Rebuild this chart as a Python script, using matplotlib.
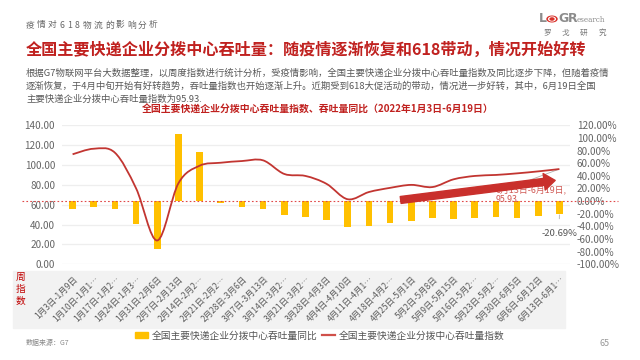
import numpy as np
import matplotlib
matplotlib.use("Agg")
from matplotlib import pyplot as plt
from matplotlib.path import Path
from matplotlib.patches import PathPatch, Rectangle, Circle, Patch
from matplotlib.lines import Line2D
import matplotlib.transforms as mtransforms

plt.rcParams['font.family'] = ['Noto Sans CJK SC', 'DejaVu Sans']

# data
weeks = ["1月3日-1月9日", "1月10日-1月1…", "1月17日-1月2…", "1月24日-1月3…", "1月31日-2月6日",
         "2月7日-2月13日", "2月14日-2月2…", "2月21日-2月2…", "2月28日-3月6日", "3月7日-3月13日",
         "3月14日-3月2…", "3月21日-3月2…", "3月28日-4月3日", "4月4日-4月10日", "4月11日-4月1…",
         "4月18日-4月2…", "4月25日-5月1日", "5月2日-5月8日", "5月9日-5月15日", "5月16日-5月2…",
         "5月23日-5月2…", "5月30日-6月5日", "6月6日-6月12日", "6月13日-6月1…"]
throughput_index = [110.8, 116.4, 112.4, 76.5, 24.0, 81.6, 99.3, 102.3, 104.0, 104.7, 91.0, 89.0,
                    81.0, 65.5, 72.8, 77.0, 80.0, 77.8, 85.6, 89.0, 90.0, 91.6, 93.6, 95.93]
yoy_pct = [-12, -9, -12, -36, -75, 106, 77, -3, -9, -12, -22, -25, -30, -41, -39, -35, -31,
           -27, -28, -26, -25, -27, -23, -20.69]
left_ticks = [0, 20, 40, 60, 80, 100, 120, 140]
right_ticks = [-100, -80, -60, -40, -20, 0, 20, 40, 60, 80, 100, 120]
last_label = "6月13日-6月19日"

RED = '#c0211f'
LINE_RED = '#c23531'
YELLOW = '#ffc000'
GRAY = '#666666'

W, H = 640, 360
fig = plt.figure(figsize=(6.4, 3.6), dpi=100)


def fx(px):
    return px / W


def fy(py):
    return 1 - py / H


# header, spaced out
header = "疫情对618物流的影响分析"
x = 26
for ch in header:
    fig.text(fx(x), fy(25), ch, fontsize=6.3, color='#666666', ha='left', va='center')
    x += 8.0 if ch.isdigit() else 11.0

fig.text(fx(26), fy(50), "全国主要快递企业分拨中心吞吐量：随疫情逐渐恢复和618带动，情况开始好转",
         fontsize=11.6, color=RED, fontweight='bold', ha='left', va='center')

para = ["根据G7物联网平台大数据整理，以周度指数进行统计分析，受疫情影响，全国主要快递企业分拨中心吞吐量指数及同比逐步下降，但随着疫情",
        "逐渐恢复，于4月中旬开始有好转趋势，吞吐量指数也开始逐渐上升。近期受到618大促活动的带动，情况进一步好转，其中，6月19日全国",
        "主要快递企业分拨中心吞吐量指数为95.93."]
for i, line in enumerate(para):
    fig.text(fx(26), fy(73 + i * 13), line, fontsize=6.76, color='#595959', ha='left', va='center')

fig.text(fx(318), fy(110), "全国主要快递企业分拨中心吞吐量指数、吞吐量同比（2022年1月3日-6月19日）",
         fontsize=7.1, color=RED, fontweight='bold', ha='center', va='center')

# logo
logo_kw = dict(fontsize=9, color='#8c8c8c', fontweight='bold', ha='left', va='center', family='DejaVu Sans')
fig.text(fx(539), fy(19), "L", **logo_kw)
for r, c in [(5.0, '#d9322b'), (3.3, 'white'), (1.9, '#d9322b')]:
    fig.patches.append(Circle((fx(552), fy(19)), r / W, transform=fig.transFigure, color=c))
fig.text(fx(558), fy(19), "G", **logo_kw)
fig.text(fx(567.5), fy(19), "R", **logo_kw)
fig.text(fx(576.5), fy(20), "esearch", fontsize=5.2, color='#8c8c8c', ha='left', va='center',
         family='DejaVu Serif')
for ch, px in zip("罗戈研究", [547, 565, 584, 602]):
    fig.text(fx(px), fy(33), ch, fontsize=5.5, color='#777777', ha='center', va='center')

# gray band under the chart for week labels
fig.patches.append(Rectangle((fx(13), fy(328)), fx(565) - fx(13), fy(271) - fy(328),
                             transform=fig.transFigure, color='#f2f2f2', zorder=-10))
for ch, py in zip("周指数", [277, 289, 301]):
    fig.text(fx(20.5), fy(py), ch, fontsize=7, color='#c00000', ha='center', va='center')

# axes
rect = [fx(62), fy(264.3), fx(570) - fx(62), fy(125.3) - fy(264.3)]
ax = fig.add_axes(rect)          # grid + left labels
ax2 = ax.twinx()                 # bars, right scale
ax3 = ax.twinx()                 # line, left scale
ax.set_zorder(0)
ax2.set_zorder(1)
ax3.set_zorder(2)
for a in (ax2, ax3):
    a.patch.set_visible(False)

xs = np.arange(len(weeks))
for a in (ax, ax2, ax3):
    a.set_xlim(-0.5, len(weeks) - 0.5)
    for s in a.spines.values():
        s.set_visible(False)
    a.tick_params(length=0)

ax.set_ylim(0, 140)
ax3.set_ylim(0, 140)
ax2.set_ylim(-100, 120)

ax.set_yticks(left_ticks)
ax.set_yticklabels([f"{v:.2f}" for v in left_ticks], fontsize=7.2, color=GRAY)
ax.tick_params(axis='y', pad=5)
ax.grid(axis='y', color='#eeeeee', lw=0.9)
ax.set_xticks([])

ax2.set_yticks(right_ticks)
ax2.set_yticklabels([f"{v:.2f}%" for v in right_ticks], fontsize=7.2, color=GRAY)
ax2.tick_params(axis='y', pad=5)
ax3.set_yticks([])
ax3.set_xticks([])
ax2.set_xticks([])

# week labels
trans = mtransforms.blended_transform_factory(ax.transData, ax.transAxes)
for i, lab in enumerate(weeks):
    ax.text(i + 0.18, -0.098, lab, transform=trans, rotation=45, rotation_mode='anchor',
            ha='right', va='center', fontsize=6.1, color='#5a5a5a', clip_on=False)

# bars
ax2.bar(xs, yoy_pct, width=0.32, color=YELLOW, zorder=2)
tr2 = mtransforms.blended_transform_factory(ax2.transAxes, ax2.transData)
ax2.plot([-0.079, 1.094], [0, 0], transform=tr2, color='#e04848', lw=0.8,
         linestyle=(0, (1.5, 2)), clip_on=False, zorder=3)

# smooth line through the index values (bezier path)
pts = np.column_stack([xs, throughput_index]).astype(float)
verts = [tuple(pts[0])]
codes = [Path.MOVETO]
k = 1 / 6.0
for i in range(len(pts) - 1):
    p0 = pts[i - 1] if i > 0 else pts[i]
    p1 = pts[i]
    p2 = pts[i + 1]
    p3 = pts[i + 2] if i + 2 < len(pts) else pts[i + 1]
    c1 = p1 + (p2 - p0) * k
    c2 = p2 - (p3 - p1) * k
    verts += [tuple(c1), tuple(c2), tuple(p2)]
    codes += [Path.CURVE4] * 3
ax3.add_patch(PathPatch(Path(verts, codes), facecolor='none', edgecolor=LINE_RED, lw=1.3, zorder=4))

# trend arrow
ax3.annotate('', xy=(22.8, 84.5), xytext=(15.5, 64.8),
             arrowprops=dict(arrowstyle='simple,head_length=0.8,head_width=1.2,tail_width=0.5',
                             color='#c9302c', mutation_scale=10, shrinkA=0, shrinkB=0), zorder=5)

# point labels
ax3.annotate('', xy=(xs[-1], throughput_index[-1]), xytext=(530, H - 180), textcoords='figure pixels',
             arrowprops=dict(arrowstyle='-', color='#b0b0b0', lw=0.6, shrinkA=0, shrinkB=1))
ax3.annotate(f"{last_label},\n{throughput_index[-1]:.2f}", xy=(xs[-1], throughput_index[-1]),
             xytext=(496, H - 195), textcoords='figure pixels', ha='left', va='center',
             fontsize=6.4, color='#d05a55', linespacing=1.1, zorder=3)
ax2.annotate(f"{yoy_pct[-1]:.2f}%", xy=(xs[-1], yoy_pct[-1]), xytext=(559, H - 233),
             textcoords='figure pixels', ha='center', va='center', fontsize=6.8, color='#555555',
             arrowprops=dict(arrowstyle='-', color='#b0b0b0', lw=0.6, shrinkA=5, shrinkB=0.5))

# legend
handles = [Patch(color=YELLOW), Line2D([0], [0], color='#d0504a', lw=1.6)]
fig.legend(handles, ["全国主要快递企业分拨中心吞吐量同比", "全国主要快递企业分拨中心吞吐量指数"],
           loc='center', bbox_to_anchor=(fx(320), fy(335.5)), ncol=2, frameon=False,
           fontsize=7, labelcolor='#555555', handlelength=1.3, handleheight=0.6,
           handletextpad=0.4, columnspacing=0.5, borderpad=0)

# footer
fig.text(fx(26), fy(343), "数据来源：G7", fontsize=5, color='#888888', ha='left', va='center')
fig.text(fx(605), fy(343), "65", fontsize=6.5, color='#999999', ha='center', va='center')

fig.savefig("out.png", dpi=100)
